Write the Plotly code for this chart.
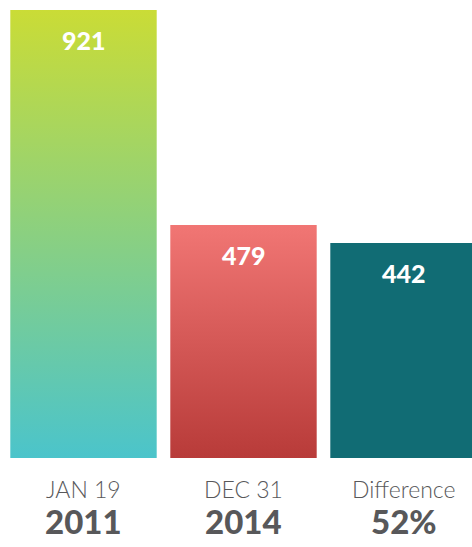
import plotly.graph_objects as go

# ---- data ----
categories = ["JAN 19", "DEC 31", "Difference"]
sublabels = ["2011", "2014", "52%"]
values = [921, 479, 442]
value_labels = ["921", "479", "442"]

# ---- styles ----
grad_bottom = ["#4bc4cb", "#b83b39", None]
grad_top = ["#cadc36", "#f17674", None]
solid = [None, None, "#116c74"]
bar_w = 0.915
FONT = "Lato"

fig = go.Figure()
for i, v in enumerate(values):
    x0, x1 = i - bar_w / 2, i + bar_w / 2
    xs = [x0, x1, x1, x0, x0]
    ys = [0, 0, v, v, 0]
    kw = dict(x=xs, y=ys, mode="lines", fill="toself", line=dict(width=0),
              hoverinfo="skip", showlegend=False)
    if solid[i]:
        kw["fillcolor"] = solid[i]
    else:
        kw["fillgradient"] = dict(type="vertical", start=0, stop=v,
                                  colorscale=[[0, grad_bottom[i]], [1, grad_top[i]]])
    fig.add_trace(go.Scatter(**kw))

annotations = []
for i, v in enumerate(values):
    annotations.append(dict(x=i, y=v, xref="x", yref="y", text=value_labels[i],
                            showarrow=False, yanchor="middle", yshift=-30,
                            font=dict(family=FONT, size=25, color="white", weight=900)))
    annotations.append(dict(x=i, y=0, xref="x", yref="paper", text=categories[i],
                            showarrow=False, yanchor="middle", yshift=-31,
                            font=dict(family=FONT, size=23, color="#58585a", weight=300)))
    annotations.append(dict(x=i, y=0, xref="x", yref="paper", text=sublabels[i],
                            showarrow=False, yanchor="middle", yshift=-63,
                            font=dict(family=FONT, size=33, color="#58585a", weight=900)))

fig.update_layout(
    width=472, height=547,
    margin=dict(l=0, r=0, t=0, b=89),
    paper_bgcolor="white", plot_bgcolor="white",
    xaxis=dict(range=[-83.5 / 160, (472 - 83.5) / 160], visible=False, fixedrange=True),
    yaxis=dict(range=[0, 458 / 0.4864], visible=False, fixedrange=True),
    annotations=annotations,
)

fig.write_html("out.html", config={"displayModeBar": False},
               post_script="document.body.style.margin='0';document.body.style.overflow='hidden';")
